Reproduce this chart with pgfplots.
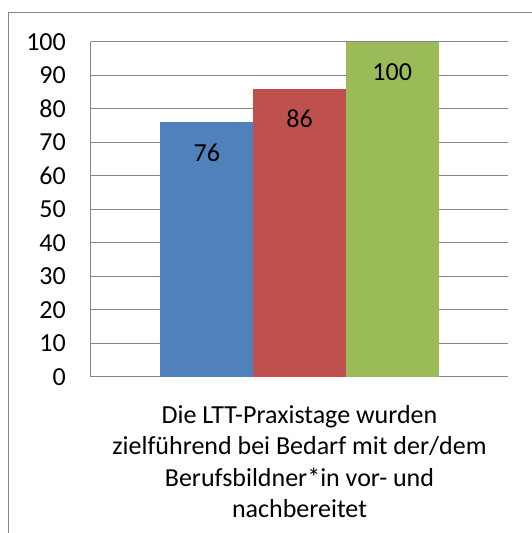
\documentclass[border=0pt]{standalone}
\usepackage{fontspec}
\setmainfont{Carlito}
\usepackage{pgfplots}
\pgfplotsset{compat=1.18}
\definecolor{gridgray}{HTML}{868686}
\definecolor{xlblue}{HTML}{4F81BD}
\definecolor{xlred}{HTML}{C0504D}
\definecolor{xlgreen}{HTML}{9BBB59}
\begin{document}
\begin{tikzpicture}
\useasboundingbox (0pt,0pt) rectangle (532pt,533pt);
\draw[gridgray, line width=1pt] (8.5pt,-5pt) -- (8.5pt,520pt) -- (540pt,520pt);
\begin{axis}[
  at={(91pt,156pt)}, anchor=south west,
  scale only axis, width=417pt, height=335pt,
  xmin=-1.5, xmax=1.5, ymin=0, ymax=100,
  ybar=0pt, bar width=92.7pt,
  axis x line=bottom, axis y line=left,
  axis line style={-, gridgray, line width=1pt},
  ymajorgrids, grid style={gridgray, line width=1pt},
  ytick={0,10,...,100}, xtick={0}, major tick length=0pt,
  xticklabels={{Die LTT-Praxistage wurden\\zielführend bei Bedarf mit der/dem\\Berufsbildner*in vor- und\\nachbereitet}},
  xticklabel style={align=center, inner sep=0pt, yshift=-28pt, font=\fontsize{26}{31.5}\selectfont},
  yticklabel style={anchor=east, inner sep=0pt, xshift=-25pt, font=\fontsize{26}{30}\selectfont},
  /pgf/number format/assume math mode=true,
  nodes near coords,
  every node near coord/.append style={anchor=center, yshift=-30pt, inner sep=0pt, font=\fontsize{26}{30}\selectfont, black},
  enlargelimits=false,
]
\addplot[fill=xlblue, draw=none] coordinates {(0,76)};
\addplot[fill=xlred, draw=none] coordinates {(0,86)};
\addplot[fill=xlgreen, draw=none] coordinates {(0,100)};
\end{axis}
\end{tikzpicture}
\end{document}
